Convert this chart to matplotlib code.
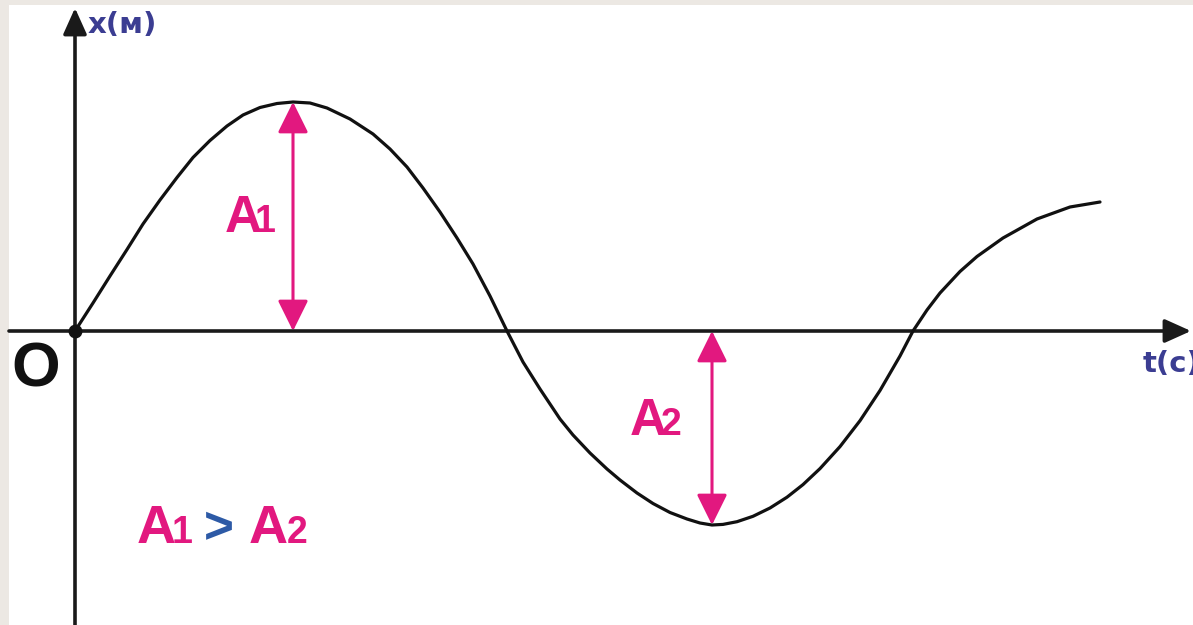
import numpy as np
import matplotlib.pyplot as plt
from matplotlib.patches import Rectangle

# curve: t in s, x in m (1 unit = 100 px)
t_vals = [0, 0.18, 0.35, 0.52, 0.68, 0.85, 1.02, 1.18, 1.35, 1.52, 1.68, 1.85,
          2.02, 2.18, 2.35, 2.52, 2.75, 2.98, 3.15, 3.32, 3.48, 3.65, 3.82,
          3.98, 4.15, 4.32, 4.48, 4.65, 4.85, 4.98, 5.15, 5.32, 5.45, 5.62,
          5.78, 5.95, 6.12, 6.25, 6.37, 6.48, 6.62, 6.78, 6.95, 7.12, 7.28,
          7.45, 7.65, 7.85, 8.05, 8.25, 8.38, 8.52, 8.65, 8.85, 9.02, 9.28,
          9.62, 9.95, 10.25]
x_vals = [0, 0.28, 0.55, 0.815, 1.07, 1.31, 1.535, 1.735, 1.905, 2.05, 2.16,
          2.235, 2.275, 2.29, 2.28, 2.23, 2.12, 1.97, 1.82, 1.64, 1.43, 1.19,
          0.93, 0.67, 0.35, 0, -0.31, -0.58, -0.88, -1.04, -1.22, -1.38, -1.49,
          -1.62, -1.725, -1.815, -1.88, -1.92, -1.94, -1.934, -1.907, -1.853,
          -1.77, -1.662, -1.536, -1.376, -1.156, -0.897, -0.595, -0.25, 0,
          0.21, 0.38, 0.595, 0.745, 0.93, 1.12, 1.24, 1.29]

MAG = '#e2187f'
NAVY = '#3b3d92'
BLUE = '#2d5aa6'
BG = '#ece8e3'

t = np.array(t_vals)
x = np.array(x_vals)
i1 = np.argmax(x)
i2 = np.argmin(x)

fig = plt.figure(figsize=(11.93, 6.25), dpi=100)
fig.patch.set_facecolor(BG)
ax = fig.add_axes([0, 0, 1, 1])
ax.set_facecolor('none')
ax.set_xlim(-0.75, 11.18)
ax.set_ylim(-2.94, 3.31)
ax.axis('off')

# white sheet, beige strip on left and top
ax.add_patch(Rectangle((9 / 1193, 0), 1, 1 - 5 / 625, transform=fig.transFigure,
                       facecolor='white', edgecolor='none', zorder=0))

# axes with arrows
axis_kw = dict(arrowstyle='-|>,head_length=0.8,head_width=0.36', mutation_scale=20,
               lw=2.6, color='#1a1a1a', shrinkA=0, shrinkB=0)
ax.annotate('', xy=(11.16, 0), xytext=(-0.66, 0), arrowprops=axis_kw, zorder=2)
ax.annotate('', xy=(0, 3.23), xytext=(0, -2.94), arrowprops=axis_kw, zorder=2)

ax.plot(t, x, color='#111111', lw=2.3, solid_joinstyle='round',
        solid_capstyle='round', zorder=3)
ax.plot([0], [0], 'o', color='#111111', ms=9, zorder=4)

# amplitude arrows
amp_kw = dict(arrowstyle='<|-|>,head_length=0.95,head_width=0.47', mutation_scale=20,
              lw=2.2, color=MAG, shrinkA=0, shrinkB=0)
ax.annotate('', xy=(t[i1], x[i1]), xytext=(t[i1], 0), arrowprops=amp_kw, zorder=3)
ax.annotate('', xy=(t[i2], x[i2]), xytext=(t[i2], 0), arrowprops=amp_kw, zorder=3)

big = dict(family='Liberation Sans', weight='bold', va='baseline', ha='left')
ax.text(1.50, 0.99, 'A', fontsize=37, color=MAG, **big)
ax.text(1.80, 0.99, '1', fontsize=27, color=MAG, **big)
ax.text(5.55, -1.04, 'A', fontsize=37, color=MAG, **big)
ax.text(5.86, -1.04, '2', fontsize=27, color=MAG, **big)

ax.text(0.62, -2.12, 'A', fontsize=39, color=MAG, **big)
ax.text(0.97, -2.12, '1', fontsize=27, color=MAG, **big)
ax.text(1.29, -2.12, '>', fontsize=37, color=BLUE, **big)
ax.text(1.74, -2.12, 'A', fontsize=39, color=MAG, **big)
ax.text(2.12, -2.12, '2', fontsize=27, color=MAG, **big)

ax.text(-0.39, -0.39, 'O', fontsize=45, color='#111111', family='Liberation Sans',
        weight='bold', ha='center', va='center')
ax.text(0.13, 3.06, 'x(м)', fontsize=21, color=NAVY, family='DejaVu Sans',
        weight='bold', ha='left', va='center')
ax.text(10.68, -0.33, 't(c)', fontsize=21, color=NAVY, family='DejaVu Sans',
        weight='bold', ha='left', va='center')

plt.savefig('out.png', dpi=100, facecolor=fig.get_facecolor())
